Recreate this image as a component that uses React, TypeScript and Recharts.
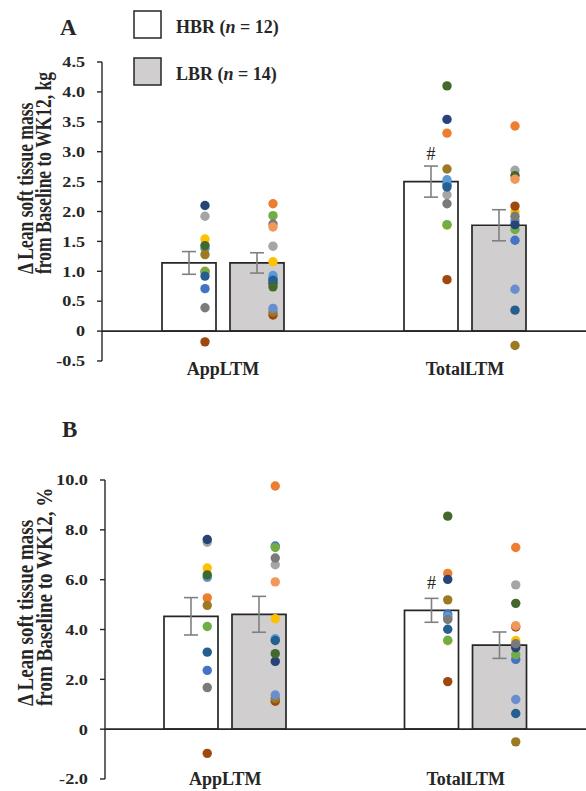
import React from "react";
import {
  ComposedChart,
  Bar,
  Scatter,
  XAxis,
  YAxis,
  ErrorBar,
  ReferenceLine,
  LabelList,
} from "recharts";

const categories = ["AppLTM", "TotalLTM"];
const sigMarks = ["", "#"];

// participant colours, in series order (Excel default palette)
const hbrColors = [
  "#4472C4", "#ED7D31", "#A5A5A5", "#FFC000", "#5B9BD5", "#70AD47",
  "#264478", "#9E480E", "#7A7A7A", "#9C7A22", "#255E91", "#43682B",
];
const lbrColors = [...hbrColors, "#698ED0", "#F1975A"];

// panel A: change in kg
const kgHbrMean = [1.14, 2.5];
const kgHbrSe = [0.19, 0.26];
const kgLbrMean = [1.14, 1.77];
const kgLbrSe = [0.17, 0.26];
const kgHbrApp = [0.71, 1.0, 1.92, 1.54, 1.38, 0.99, 2.1, -0.18, 0.39, 1.28, 0.92, 1.43];
const kgHbrTotal = [2.45, 3.31, 2.28, 1.77, 2.53, 1.78, 3.54, 0.86, 2.13, 2.71, 2.41, 4.1];
const kgLbrApp = [0.88, 2.13, 1.42, 1.16, 0.93, 1.93, 0.8, 0.27, 1.79, 0.32, 0.85, 0.74, 0.38, 1.74];
const kgLbrTotal = [1.52, 3.43, 2.69, 1.99, 1.85, 1.7, 1.78, 2.09, 1.92, -0.24, 0.35, 2.6, 0.7, 2.54];
const kgTicks = [-0.5, 0, 0.5, 1, 1.5, 2, 2.5, 3, 3.5, 4, 4.5];

// panel B: change in %
const pctHbrMean = [4.53, 4.77];
const pctHbrSe = [0.75, 0.48];
const pctLbrMean = [4.61, 3.37];
const pctLbrSe = [0.72, 0.53];
const pctHbrApp = [2.36, 5.27, 7.5, 6.47, 6.09, 4.12, 7.61, -0.97, 1.67, 4.97, 3.09, 6.19];
const pctHbrTotal = [4.61, 6.25, 4.45, 3.55, 4.52, 3.57, 6.01, 1.91, 4.4, 5.19, 4.01, 8.55];
const pctLbrApp = [7.35, 9.76, 6.6, 4.43, 3.63, 7.29, 2.72, 1.12, 6.87, 1.23, 3.56, 3.03, 1.37, 5.91];
const pctLbrTotal = [2.8, 7.29, 5.79, 3.56, 3.35, 2.99, 3.27, 4.1, 3.43, -0.51, 0.63, 5.05, 1.19, 4.15];
const pctTicks = [-2, 0, 2, 4, 6, 8, 10];

const FONT = "'Liberation Serif', 'Times New Roman', serif";
const INK = "#262626";

function buildRows(
  hMean: number[], hSe: number[], lMean: number[], lSe: number[],
  hApp: number[], hTot: number[], lApp: number[], lTot: number[]
) {
  return categories.map((cat, ci) => {
    const row: Record<string, any> = {
      cat,
      hbr: hMean[ci],
      hbrSe: hSe[ci],
      lbr: lMean[ci],
      lbrSe: lSe[ci],
      sig: sigMarks[ci],
    };
    (ci === 0 ? hApp : hTot).forEach((v, i) => (row[`h${i}`] = v));
    (ci === 0 ? lApp : lTot).forEach((v, i) => (row[`l${i}`] = v));
    return row;
  });
}

const kgRows = buildRows(kgHbrMean, kgHbrSe, kgLbrMean, kgLbrSe, kgHbrApp, kgHbrTotal, kgLbrApp, kgLbrTotal);
const pctRows = buildRows(pctHbrMean, pctHbrSe, pctLbrMean, pctLbrSe, pctHbrApp, pctHbrTotal, pctLbrApp, pctLbrTotal);

// dots sit a little right of each bar's centre
const dot = (dx: number, color: string) => (props: any) => {
  if (props.cx == null || props.cy == null) return <g />;
  return <circle cx={props.cx + dx} cy={props.cy} r={4.7} fill={color} />;
};

const yTick = (fmt: (v: number) => string, size: number, sx: number) => (props: any) => {
  const { x, y, payload } = props;
  return (
    <g transform={`translate(${x},${y}) scale(${sx},1)`}>
      <text textAnchor="end" dy="0.36em" fontFamily={FONT} fontWeight="bold" fontSize={size} fill={INK}>
        {fmt(payload.value)}
      </text>
    </g>
  );
};

const xTick = (dy: number) => (props: any) => {
  const { x, y, payload } = props;
  return (
    <text x={x} y={y} dy={dy} textAnchor="middle" fontFamily={FONT} fontWeight="bold" fontSize={18} fill={INK}>
      {payload.value}
    </text>
  );
};

interface PanelProps {
  rows: Record<string, any>[];
  ticks: number[];
  fmt: (v: number) => string;
  height: number;
  top: number;
  xHeight: number;
  yWidth: number;
  labelDy: number;
  tickSize: number;
  tickScale: number;
  sigOffset: number;
}

function Panel({ rows, ticks, fmt, height, top, xHeight, yWidth, labelDy, tickSize, tickScale, sigOffset }: PanelProps) {
  return (
    <ComposedChart
      width={586}
      height={height}
      data={rows}
      margin={{ top, right: 0, left: 0, bottom: 0 }}
      barGap={14}
    >
      <XAxis
        dataKey="cat"
        axisLine={false}
        tickLine={false}
        tickSize={0}
        height={xHeight}
        interval={0}
        tick={xTick(labelDy)}
      />
      <YAxis
        width={yWidth}
        domain={[ticks[0], ticks[ticks.length - 1]]}
        ticks={ticks}
        interval={0}
        axisLine={{ stroke: INK, strokeWidth: 1.4 }}
        tickLine={{ stroke: INK, strokeWidth: 1.4 }}
        tickSize={5}
        tickMargin={12}
        tick={yTick(fmt, tickSize, tickScale)}
      />
      <Bar dataKey="hbr" barSize={54} fill="#FFFFFF" stroke={INK} strokeWidth={1.7} isAnimationActive={false}>
        <ErrorBar dataKey="hbrSe" width={7} stroke="#808080" strokeWidth={1.6} direction="y" />
        <LabelList dataKey="sig" position="top" offset={sigOffset} fontFamily={FONT} fontSize={18} fill={INK} />
      </Bar>
      <Bar dataKey="lbr" barSize={54} fill="#D0CECE" stroke={INK} strokeWidth={1.7} isAnimationActive={false}>
        <ErrorBar dataKey="lbrSe" width={7} stroke="#808080" strokeWidth={1.6} direction="y" />
      </Bar>
      <ReferenceLine y={0} stroke={INK} strokeWidth={1.6} />
      {hbrColors.map((c, i) => (
        <Scatter key={`h${i}`} dataKey={`h${i}`} fill={c} shape={dot(-18, c)} isAnimationActive={false} />
      ))}
      {lbrColors.map((c, i) => (
        <Scatter key={`l${i}`} dataKey={`l${i}`} fill={c} shape={dot(50, c)} isAnimationActive={false} />
      ))}
    </ComposedChart>
  );
}

const fmtKg = (v: number) => (v === 0 ? "0" : v.toFixed(1));
const fmtPct = (v: number) => (v === 0 ? "0" : v.toFixed(1));

export default function App() {
  const text = { fontFamily: FONT, fontWeight: "bold" as const, fill: INK };
  return (
    <div style={{ position: "absolute", left: 0, top: 0, width: 586, height: 791, background: "#fff" }}>
      <div style={{ position: "absolute", left: 0, top: 0 }}>
        <Panel rows={kgRows} ticks={kgTicks} fmt={fmtKg} height={400} top={62} xHeight={39} yWidth={102}
          labelDy={12} tickSize={14.5} tickScale={1.25} sigOffset={22} />
      </div>
      <div style={{ position: "absolute", left: 0, top: 400 }}>
        <Panel rows={pctRows} ticks={pctTicks} fmt={fmtPct} height={391} top={80} xHeight={12} yWidth={105}
          labelDy={4} tickSize={15} tickScale={1.22} sigOffset={21} />
      </div>
      <svg width={586} height={791} style={{ position: "absolute", left: 0, top: 0, pointerEvents: "none" }}>
        <text x={60} y={35} fontSize={23} {...text}>A</text>
        <text x={62} y={437} fontSize={23} {...text}>B</text>

        <rect x={134} y={11} width={27} height={27} fill="#FFFFFF" stroke={INK} strokeWidth={1.5} />
        <rect x={134} y={58} width={27} height={27} fill="#D0CECE" stroke={INK} strokeWidth={1.5} />
        <text x={176} y={33} fontSize={18} {...text}>
          HBR (<tspan fontStyle="italic">n</tspan> = 12)
        </text>
        <text x={176} y={80} fontSize={18} {...text}>
          LBR (<tspan fontStyle="italic">n</tspan> = 14)
        </text>

        <g transform="translate(33,274) scale(1.3,1) rotate(-90)">
          <text x={0} y={0} fontSize={17.5} {...text}>Δ Lean soft tissue mass</text>
        </g>
        <g transform="translate(51,274) scale(1.3,1) rotate(-90)">
          <text x={0} y={0} fontSize={17.5} {...text}>from Baseline to WK12, kg</text>
        </g>
        <g transform="translate(33,706) scale(1.25,1) rotate(-90)">
          <text x={0} y={0} fontSize={19} {...text}>Δ Lean soft tissue mass</text>
        </g>
        <g transform="translate(52,706) scale(1.25,1) rotate(-90)">
          <text x={0} y={0} fontSize={19} {...text}>from Baseline to WK12, %</text>
        </g>
      </svg>
    </div>
  );
}
